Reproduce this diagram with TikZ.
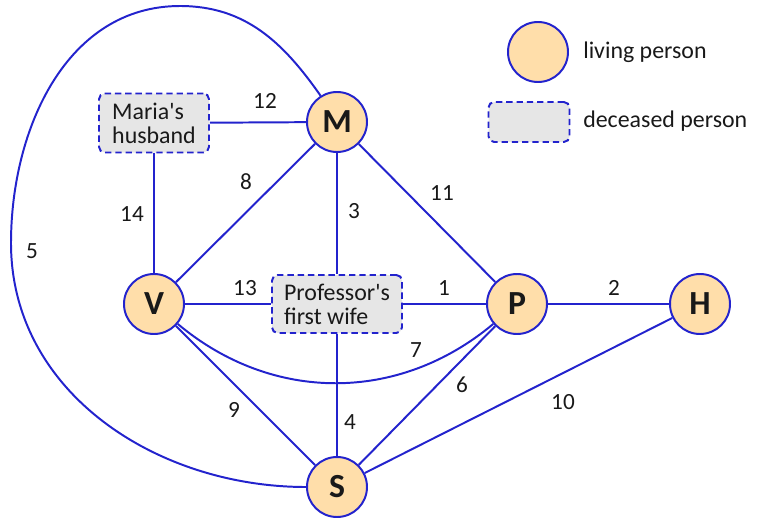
\documentclass[tikz,border=0pt]{standalone}
\usepackage{fontspec}
\setmainfont{Carlito}
\usepackage{xcolor}
\usepackage{tikz}
\usetikzlibrary{positioning, calc}
\definecolor{edgeblue}{RGB}{35, 35, 205}
\definecolor{living}{RGB}{255, 222, 170}
\definecolor{deceased}{RGB}{230, 230, 230}
\definecolor{ink}{RGB}{25, 25, 25}
\tikzstyle{alive} = [circle, minimum size=1.5cm, inner sep=0pt, draw=edgeblue, fill=living, line width=1.4pt, font=\fontsize{24}{24}\selectfont\bfseries, text=ink]
\tikzstyle{dead} = [rectangle, rounded corners=4pt, align=left, draw=edgeblue, fill=deceased, dash pattern=on 4.5pt off 2.8pt, line width=1.4pt, inner sep=0pt, font=\fontsize{17}{17}\selectfont, text=ink]
\tikzstyle{link} = [draw=edgeblue, line width=1.4pt]
\tikzstyle{weight} = [font=\fontsize{16.5}{16.5}\selectfont, text=ink]
\tikzstyle{legendtext} = [anchor=west, inner sep=0pt, font=\fontsize{17}{17}\selectfont, text=ink]

\begin{document}
\begin{tikzpicture}
    \useasboundingbox (0,0) rectangle (18.925,12.975);

    % People
    \node[alive] (M) at (8.425, 9.925) {M};
    \node[alive] (V) at (3.85, 5.375) {V};
    \node[alive] (P) at (12.925, 5.375) {P};
    \node[alive] (H) at (17.5, 5.375) {H};
    \node[alive] (S) at (8.425, 0.8) {S};
    \node[dead, minimum width=2.75cm, minimum height=1.475cm] (husband) at (3.85, 9.9) {Maria\textquotesingle s\\husband};
    \node[dead, minimum width=3.25cm, minimum height=1.45cm] (wife) at (8.425, 5.375) {Professor\textquotesingle s\\first wife};

    % Legend
    \node[alive] (livingkey) at (13.45, 11.675) {};
    \node[dead, minimum width=2.025cm, minimum height=1cm] (deadkey) at (13.225, 9.925) {};
    \node[legendtext] (livinglabel) at (14.575, 11.675) {living person};
    \node[legendtext] (deadlabel) at (14.575, 9.95) {deceased person};

    % Connections
    \draw[link] (wife) -- (P);
    \draw[link] (P) -- (H);
    \draw[link] (M) -- (wife);
    \draw[link] (wife) -- (S);
    \draw[link] (M) -- (husband);
    \draw[link] (husband) -- (V);
    \draw[link] (M) -- (V);
    \draw[link] (V) -- (wife);
    \draw[link] (M) -- (P);
    \draw[link] (V) -- (S);
    \draw[link] (P) -- (S);
    \draw[link] (H) -- (S);
    \draw[link] (V) to[out=-40, in=-140] (P);
    \draw[link] (M.122) to[out=125, in=0] (4.5,12.825) to[out=180, in=90] (0.275,6.9) to[out=-90, in=180] (S.west);

    % Weights
    \node[weight] (w1) at (11.1, 5.775) {1};
    \node[weight] (w2) at (15.35, 5.775) {2};
    \node[weight] (w3) at (8.85, 7.7) {3};
    \node[weight] (w4) at (8.75, 2.425) {4};
    \node[weight] (w5) at (0.8, 6.7) {5};
    \node[weight] (w6) at (11.55, 3.35) {6};
    \node[weight] (w7) at (10.4, 4.225) {7};
    \node[weight] (w8) at (6.15, 8.425) {8};
    \node[weight] (w9) at (5.85, 2.725) {9};
    \node[weight] (w10) at (14.075, 2.925) {10};
    \node[weight] (w11) at (11.05, 8.15) {11};
    \node[weight] (w12) at (6.625, 10.45) {12};
    \node[weight] (w13) at (6.125, 5.775) {13};
    \node[weight] (w14) at (3.3, 7.625) {14};
\end{tikzpicture}
\end{document}
